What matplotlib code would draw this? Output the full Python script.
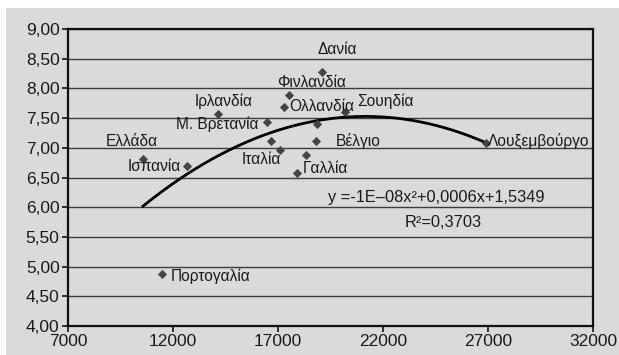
import numpy as np
import matplotlib.pyplot as plt
from matplotlib.patches import Rectangle
from matplotlib.ticker import FuncFormatter, MultipleLocator

plt.rcParams['font.family'] = ['Liberation Sans', 'DejaVu Sans']

# GDP per capita (x) vs satisfaction score (y)
gdp = [10570, 12667, 14143, 16476, 16667, 17095, 17524, 17286,
       17905, 18333, 19095, 20190, 18857, 18810, 26905, 11476]
score = [6.81, 6.69, 7.57, 7.43, 7.11, 6.96, 7.89, 7.69,
         6.58, 6.88, 8.28, 7.60, 7.40, 7.11, 7.08, 4.88]
names = ['Ελλάδα', 'Ισπανία', 'Ιρλανδία', 'Μ. Βρετανία', 'Ιταλία', '',
         'Φινλανδία', 'Ολλανδία', 'Γαλλία', '', 'Δανία', 'Σουηδία', '',
         'Βέλγιο', 'Λουξεμβούργο', 'Πορτογαλία']
x_ticks = [7000, 12000, 17000, 22000, 27000, 32000]
# label placement: (dx, dy) in pixels, horizontal alignment
label_pos = {
    'Ελλάδα': (-11, 18, 'center'),
    'Ισπανία': (-6, 0, 'right'),
    'Ιρλανδία': (6, 13, 'center'),
    'Μ. Βρετανία': (-8, -2, 'right'),
    'Ιταλία': (-10, -18, 'center'),
    'Φινλανδία': (23, 12, 'center'),
    'Ολλανδία': (5, 0, 'left'),
    'Γαλλία': (6, 4, 'left'),
    'Δανία': (15, 22, 'center'),
    'Σουηδία': (12, 11, 'left'),
    'Βέλγιο': (20, 0, 'left'),
    'Λουξεμβούργο': (2, 2, 'left'),
    'Πορτογαλία': (9, -3, 'left'),
}
eq_text = 'y =-1E–08x²+0,0006x+1,5349'
r2_text = 'R²=0,3703'

fig = plt.figure(figsize=(6.19, 3.55), dpi=100, facecolor='white')
fig.patches.append(Rectangle((6 / 619, 0), 1, 1 - 8 / 355, transform=fig.transFigure,
                             facecolor='#d9dadc', edgecolor='none', zorder=-10))
ax = fig.add_axes([68 / 619, 29 / 355, 525 / 619, 297 / 355])
ax.set_facecolor('#d9dadc')

ax.set_xlim(7000, 32000)
ax.set_ylim(4, 9)
ax.set_xticks(x_ticks)
ax.yaxis.set_major_locator(MultipleLocator(0.5))
ax.yaxis.set_major_formatter(FuncFormatter(lambda v, p: f'{v:.2f}'.replace('.', ',')))
ax.grid(axis='y', color='#3c3c3c', lw=1.0)
ax.set_axisbelow(True)
for s in ax.spines.values():
    s.set_color('#111111')
    s.set_linewidth(1.6)
ax.tick_params(direction='out', length=4, width=1.2, color='#111111',
               labelsize=12.5, labelcolor='#1a1a1a', pad=2)

# quadratic trendline
coef = np.polyfit(gdp, score, 2)
xs = np.linspace(min(gdp), max(gdp), 200)
ax.plot(xs, np.polyval(coef, xs), color='black', lw=2, zorder=3)

ax.scatter(gdp, score, marker='D', s=22, color='#444444', zorder=4, linewidths=0)

for x, y, n in zip(gdp, score, names):
    if not n:
        continue
    dx, dy, ha = label_pos[n]
    ax.annotate(n, (x, y), xytext=(dx, dy), textcoords='offset pixels',
                ha=ha, va='center', fontsize=11.2, color='#1a1a1a', zorder=5)

ax.text(0.702, 0.432, eq_text, transform=ax.transAxes, ha='center', va='center',
        fontsize=11.8, color='#1a1a1a')
ax.text(0.714, 0.35, r2_text, transform=ax.transAxes, ha='center', va='center',
        fontsize=11.8, color='#1a1a1a')

fig.savefig('out.png', dpi=100, facecolor=fig.get_facecolor())
